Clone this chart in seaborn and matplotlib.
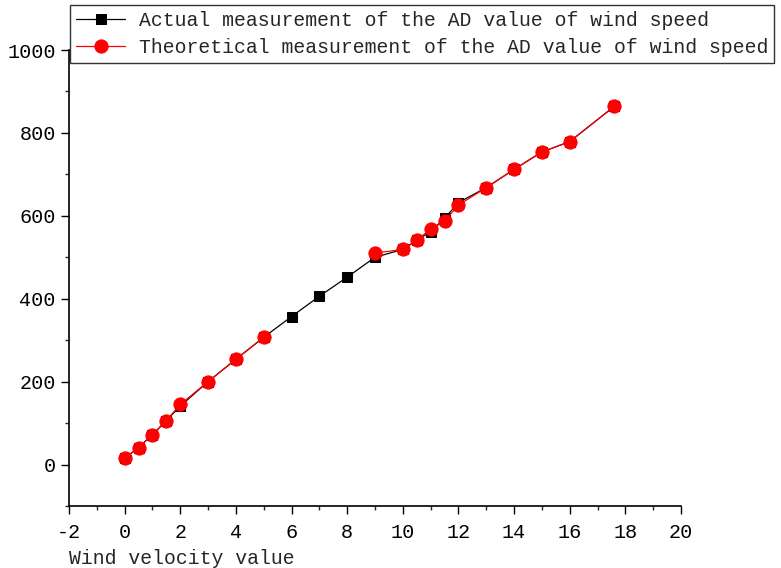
import numpy as np
import pandas as pd
import matplotlib
matplotlib.use("Agg")
import matplotlib.pyplot as plt
import seaborn as sns
from matplotlib.ticker import MultipleLocator

wind = [0, 0.5, 1, 1.5, 2, 3, 4, 5, 6, 7, 8, 9, 10, 10.5, 11, 11.5, 12, 13, 14, 15, 16, 17.6]
actual = [15, 41, 72, 106, 141, 200, 254, 307, 357, 406, 452, 500, 519, 541, 562, 594, 632, 668, 712, 754, 779, 864]
theory = [15, 41, 72, 106, 145, 200, 254, 307, np.nan, np.nan, np.nan, 510, 519, 541, 568, 587, 626, 668, 712, 754, 779, 864]

label_actual = "Actual measurement of the AD value of wind speed"
label_theory = "Theoretical measurement of the AD value of wind speed"

sns.set_style("ticks")
plt.rcParams["font.family"] = ["Liberation Mono", "DejaVu Sans Mono"]
plt.rcParams["axes.unicode_minus"] = False

df = pd.DataFrame({"wind": wind, "actual": actual, "theory": theory})
# red series has a gap between 5 and 9, draw it in two pieces
df["seg"] = np.where(df["wind"] <= 5, 0, 1)
df_t = df.dropna(subset=["theory"])

fig = plt.figure(figsize=(7.81, 5.68), dpi=100)
ax = fig.add_axes([69 / 781, 1 - 506 / 568, 612 / 781, 456 / 568])

sns.lineplot(data=df, x="wind", y="actual", ax=ax, color="black", lw=0.9,
             marker="s", markersize=7, markeredgecolor="black",
             markerfacecolor="black", label=label_actual)
for seg, part in df_t.groupby("seg"):
    sns.lineplot(data=part, x="wind", y="theory", ax=ax, color="red", lw=0.9,
                 marker="o", markersize=9.5, markeredgecolor="red",
                 markerfacecolor="red",
                 label=label_theory if seg == 0 else "_nolegend_")

ax.set_xlim(-2, 20)
ax.set_ylim(-100, 1000)
ax.xaxis.set_major_locator(MultipleLocator(2))
ax.xaxis.set_minor_locator(MultipleLocator(1))
ax.yaxis.set_major_locator(MultipleLocator(200))
ax.yaxis.set_minor_locator(MultipleLocator(100))
ax.tick_params(which="major", direction="out", length=6, width=1, labelsize=14.5, colors="black")
ax.tick_params(axis="x", which="major", pad=6)
ax.tick_params(which="minor", direction="out", length=3, width=1)
sns.despine(ax=ax)
for s in ["left", "bottom"]:
    ax.spines[s].set_linewidth(1.2)
    ax.spines[s].set_color("black")

ax.set_xlabel("Wind velocity value", fontsize=14.2, loc="left", labelpad=5)
ax.set_ylabel("")

ax.legend(loc="upper left", bbox_to_anchor=(70 / 781, 1 - 5 / 568),
          bbox_transform=fig.transFigure, fontsize=14.2, frameon=True,
          fancybox=False, edgecolor="black", handlelength=2.5,
          borderpad=0.3, labelspacing=0.4, handletextpad=0.7, borderaxespad=0)

fig.savefig("out.png", dpi=100)
